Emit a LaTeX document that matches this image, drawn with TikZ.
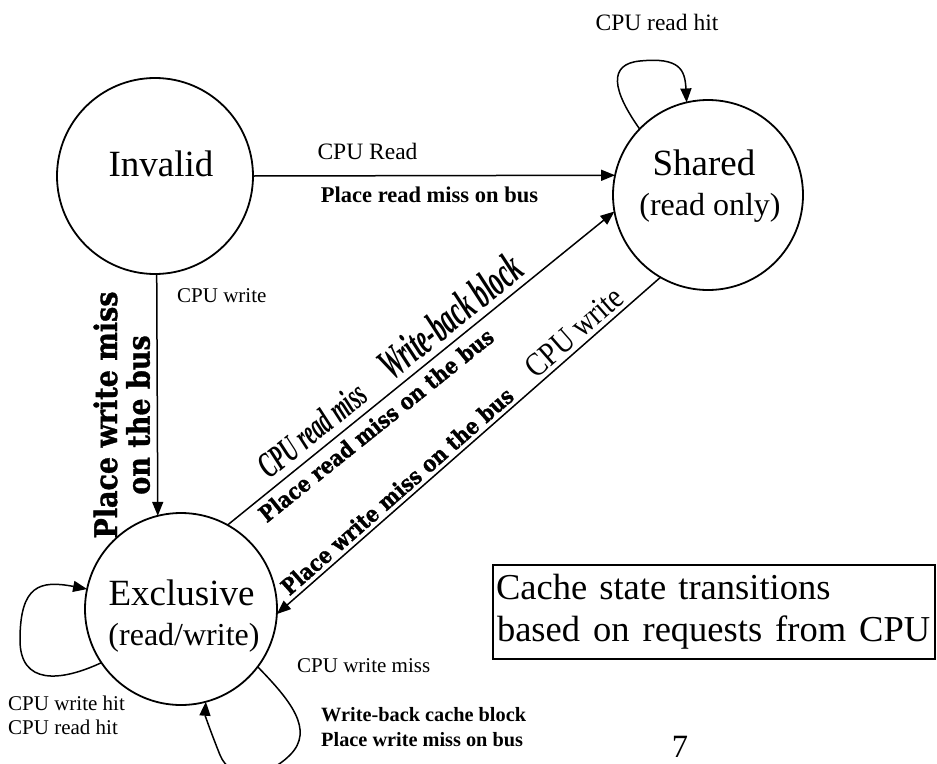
\documentclass[tikz,border=0pt]{standalone}
\usepackage{fontspec}
\setmainfont{Liberation Serif}
\newfontfamily\heavyfont{DejaVu Serif}[BoldFeatures={FakeBold=1.2}]
\usetikzlibrary{arrows.meta}
\newcommand\fsz[2]{\fontsize{#1}{#2}\selectfont}
\newcommand\tall[1]{\scalebox{1}[1.15]{#1}}

\begin{document}
\begin{tikzpicture}[x=1pt,y=-1pt,
  state/.style={circle,draw,line width=1.8pt,minimum size=#1,inner sep=0pt,outer sep=0pt},
  conn/.style={line width=1.5pt,-{Triangle[length=14pt,width=11pt]}},
  statename/.style={inner sep=0pt,font=\fsz{37}{42}},
  statesub/.style={inner sep=0pt,font=\fsz{32}{38}},
  small/.style={inner sep=0pt,font=\fsz{21}{25}},
  smallbig/.style={inner sep=0pt,font=\fsz{23.5}{28}},
  action/.style={inner sep=0pt,font=\bfseries\fsz{20.3}{25}},
  actionbig/.style={inner sep=0pt,font=\bfseries\fsz{22.5}{27}},
  heavy/.style={inner sep=0pt,font=\heavyfont\bfseries\fsz{#1}{26}},
  cond/.style={inner sep=0pt,font=\bfseries\itshape\fsz{#1}{#1}},
  narrow/.style={inner sep=0pt,font=\fsz{#1}{#1}},
]
\useasboundingbox (0,0) rectangle (937,763);
\clip (0,0) rectangle (937,763);

% states
\node[state=196pt] (inv) at (155,176) {};
\node[state=190pt] (shared) at (708,195) {};
\node[state=192pt] (excl) at (181,609) {};

\node[statename,anchor=base] (invtext) at (161,176) {Invalid};
\node[statename,anchor=base] (sharedtext) at (704,175) {Shared};
\node[statesub,anchor=base] (sharedsub) at (710,215) {(read only)};
\node[statename,anchor=base] (excltext) at (181.5,605) {Exclusive};
\node[statesub,anchor=base] (exclsub) at (184,645) {(read/write)};

% transitions
\draw[conn] (inv.0) -- (shared.168);
\draw[conn] (inv.-89) -- (excl.104.5);
\draw[conn] (excl.61.6) -- (shared.190.7);
\draw[conn] (shared.240.5) -- (excl.-3.5);

% self loops
\draw[conn] (shared.136.3) .. controls (612,90) and (608,64) .. (640,61)
  .. controls (680,57) and (685,70) .. (shared.103.6);
\draw[conn] (excl.214.7) .. controls (60,682) and (20,685) .. (20,640)
  .. controls (20,585) and (40,580) .. (excl.168.2);
\draw[conn] (excl.-37) .. controls (290,700) and (315,730) .. (290,755)
  .. controls (265,780) and (230,780) .. (220,755)
  .. controls (210,730) and (205,715) .. (excl.-75);

% labels on Invalid -> Shared
\node[smallbig,anchor=base] (lread) at (367.5,159) {CPU Read};
\node[actionbig,anchor=base] (lreadact) at (429.5,202) {Place read miss on bus};

% label of the Shared self loop
\node[smallbig,anchor=base] (lsharedhit) at (657,30) {CPU read hit};

% labels on Invalid -> Exclusive
\node[small,anchor=base west] (lwrite) at (177,302) {CPU write};
\node[heavy=27,rotate=90] (lwritebus) at (126,415)
  {\tall{\begin{tabular}{@{}c@{}}Place write miss\\on the bus\end{tabular}}};

% labels on Exclusive -> Shared
\node[cond=36,rotate=38.75] (lrmiss) at (312,430) {\scalebox{0.58}[1]{CPU read miss}};
\node[cond=44,rotate=38.75] (lwbblock) at (450,316) {\scalebox{0.56}[1]{Write-back block}};
\node[heavy=19.5,rotate=38.75] (lrmissbus) at (376,425) {\tall{Place read miss on the bus}};

% labels on Shared -> Exclusive
\node[narrow=33,rotate=41.25] (lcpuw) at (574,332) {\scalebox{0.85}[1]{CPU write}};
\node[heavy=19.5,rotate=41.25] (lwmissbus) at (397,491) {\tall{Place write miss on the bus}};

% labels of the Exclusive self loops
\node[small,anchor=base west] (lwhit) at (8,710) {CPU write hit};
\node[small,anchor=base west] (lrhit) at (8,734) {CPU read hit};
\node[small,anchor=base west] (lwmiss) at (297,672) {CPU write miss};
\node[action,anchor=base west] (lwback) at (321,721) {Write-back cache block};
\node[action,anchor=base west] (lwplace) at (321,746) {Place write miss on bus};

% caption box and page number
\node[draw,line width=1.5pt,minimum height=94pt,text width=436pt,inner sep=3pt,
  align=left,font=\fsz{36.5}{42}] (note) at (714,612)
  {Cache state transitions\\{\spaceskip=13pt\relax\hspace*{1pt}based on requests from CPU}};
\node[inner sep=0pt,font=\fsz{32.5}{36},anchor=base] (pagenum) at (680,757) {7};
\end{tikzpicture}
\end{document}
